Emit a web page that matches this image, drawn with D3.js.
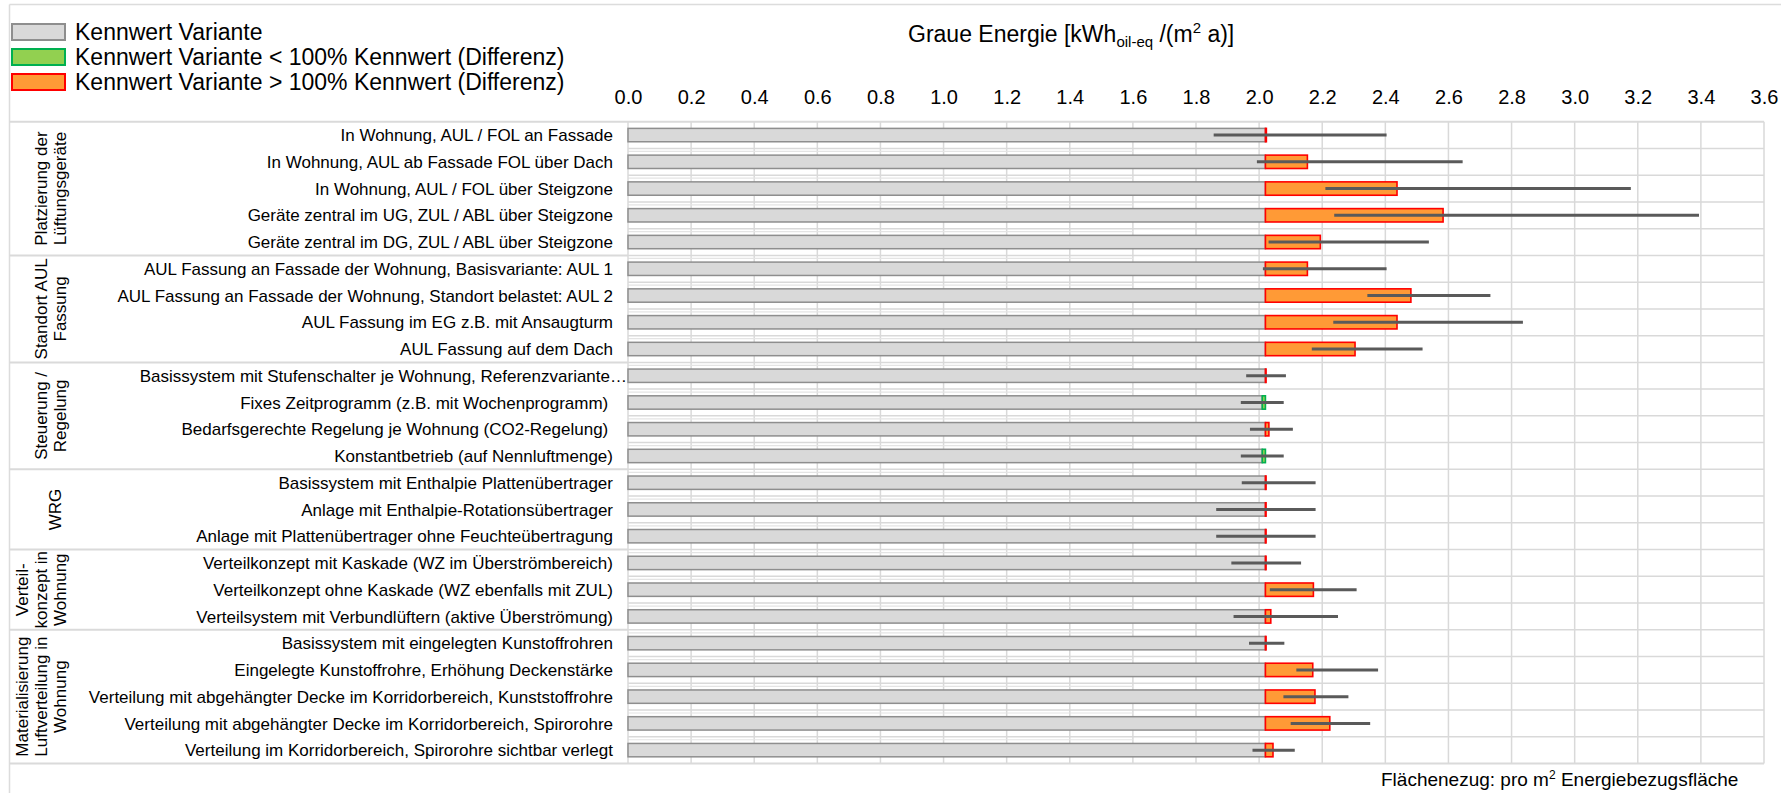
<!DOCTYPE html>
<html><head><meta charset="utf-8">
<script src="https://cdn.jsdelivr.net/npm/d3@7"></script>
<style>
body{margin:0;background:#fff;}
svg text{font-family:"Liberation Sans",Arial,sans-serif;fill:#000;white-space:pre;}
</style>
</head><body>
<svg id="c" width="1781" height="793"></svg>
<script>
// ---------------- data ----------------
const categories = [
  "In Wohnung, AUL / FOL an Fassade",
  "In Wohnung, AUL ab Fassade FOL über Dach",
  "In Wohnung, AUL / FOL über Steigzone",
  "Geräte zentral im UG, ZUL / ABL über Steigzone",
  "Geräte zentral im DG, ZUL / ABL über Steigzone",
  "AUL Fassung an Fassade der Wohnung, Basisvariante: AUL 1",
  "AUL Fassung an Fassade der Wohnung, Standort belastet: AUL 2",
  "AUL Fassung im EG z.B. mit Ansaugturm",
  "AUL Fassung auf dem Dach",
  "Basissystem mit Stufenschalter je Wohnung, Referenzvariante…",
  "Fixes Zeitprogramm (z.B. mit Wochenprogramm) ",
  "Bedarfsgerechte Regelung je Wohnung (CO2-Regelung) ",
  "Konstantbetrieb (auf Nennluftmenge)",
  "Basissystem mit Enthalpie Plattenübertrager",
  "Anlage mit Enthalpie-Rotationsübertrager",
  "Anlage mit Plattenübertrager ohne Feuchteübertragung",
  "Verteilkonzept mit Kaskade (WZ im Überströmbereich)",
  "Verteilkonzept ohne Kaskade (WZ ebenfalls mit ZUL)",
  "Verteilsystem mit Verbundlüftern (aktive Überströmung)",
  "Basissystem mit eingelegten Kunstoffrohren",
  "Eingelegte Kunstoffrohre, Erhöhung Deckenstärke",
  "Verteilung mit abgehängter Decke im Korridorbereich, Kunststoffrohre",
  "Verteilung mit abgehängter Decke im Korridorbereich, Spirorohre",
  "Verteilung im Korridorbereich, Spirorohre sichtbar verlegt"
];
const groupLabels = [
  ["Platzierung der","Lüftungsgeräte"],
  ["Standort AUL","Fassung"],
  ["Steuerung /","Regelung"],
  ["WRG"],
  ["Verteil-","konzept in","Wohnung"],
  ["Materialisierung","Luftverteilung in","Wohnung"]
];
const groupSizes = [5,4,4,3,3,5];
const referenceValue = 2.02;
const variantValues = [2.023,2.153,2.437,2.583,2.194,2.153,2.481,2.437,2.304,2.022,2.010,2.031,2.010,2.022,2.022,2.022,2.022,2.172,2.037,2.022,2.170,2.177,2.224,2.044];
const rangeLow  = [1.856,1.993,2.210,2.238,2.030,2.012,2.343,2.235,2.167,1.959,1.942,1.971,1.942,1.945,1.864,1.864,1.912,2.034,1.919,1.968,2.118,2.077,2.100,1.979];
const rangeHigh = [2.404,2.645,3.178,3.394,2.538,2.404,2.733,2.836,2.518,2.085,2.078,2.107,2.078,2.179,2.179,2.179,2.133,2.309,2.250,2.080,2.377,2.283,2.352,2.113];
const tickValues = [0,0.2,0.4,0.6,0.8,1.0,1.2,1.4,1.6,1.8,2.0,2.2,2.4,2.6,2.8,3.0,3.2,3.4,3.6];
const legendItems = [
  "Kennwert Variante",
  "Kennwert Variante < 100% Kennwert (Differenz)",
  "Kennwert Variante > 100% Kennwert (Differenz)"
];

// ---------------- layout ----------------
const svg = d3.select("#c");
const plotL = 628, plotR = 1764, plotT = 121.7, plotB = 763.5, tableL = 9.5;
const x = d3.scaleLinear().domain([0,3.6]).range([plotL, plotR]);
const y = d3.scaleBand().domain(categories).range([plotT, plotB]).paddingInner(0.5).paddingOuter(0.25);
const step = y.step();
const boundary = k => plotT + k*step;

const GRID = "#d9d9d9";

// frame
svg.append("line").attr("x1",tableL).attr("x2",1781).attr("y1",4.5).attr("y2",4.5).attr("stroke","#dcdcdc").attr("stroke-width",1.5);
svg.append("line").attr("x1",tableL).attr("x2",tableL).attr("y1",4.5).attr("y2",793).attr("stroke","#dcdcdc").attr("stroke-width",1.5);

// vertical gridlines
svg.append("g").selectAll("line").data(tickValues.slice(1)).join("line")
  .attr("x1",d=>x(d)).attr("x2",d=>x(d)).attr("y1",plotT).attr("y2",plotB)
  .attr("stroke",GRID).attr("stroke-width",1.5);

// horizontal row lines
const rowB = d3.range(1, categories.length);
svg.append("g").selectAll("line").data(rowB).join("line")
  .attr("x1",plotL).attr("x2",plotR).attr("y1",d=>boundary(d)).attr("y2",d=>boundary(d))
  .attr("stroke",GRID).attr("stroke-width",1.5);
svg.append("g").selectAll("line").data(rowB).join("line")
  .attr("x1",plotL).attr("x2",x(1.6)).attr("y1",d=>boundary(d)+3).attr("y2",d=>boundary(d)+3)
  .attr("stroke","#e4e4e4").attr("stroke-width",1.2);

// table lines
let acc = 0; const groupBounds = [];
groupSizes.forEach(s=>{ groupBounds.push([acc, acc+s]); acc += s; });
svg.append("g").selectAll("line").data(groupBounds.slice(0,-1)).join("line")
  .attr("x1",tableL).attr("x2",plotL).attr("y1",d=>boundary(d[1])).attr("y2",d=>boundary(d[1]))
  .attr("stroke","#dadada").attr("stroke-width",2);
[plotT, plotB].forEach(v=>{
  svg.append("line").attr("x1",tableL).attr("x2",plotR).attr("y1",v).attr("y2",v).attr("stroke","#dadada").attr("stroke-width",2);
});
svg.append("line").attr("x1",plotL).attr("x2",plotL).attr("y1",plotT).attr("y2",plotB).attr("stroke","#dadada").attr("stroke-width",1.5);

// data rows
const rows = categories.map((c,i)=>({c, v:variantValues[i], lo:rangeLow[i], hi:rangeHigh[i]}));
const bw = y.bandwidth();

// grey base bars
svg.append("g").selectAll("rect").data(rows).join("rect")
  .attr("x",x(0)).attr("y",d=>y(d.c))
  .attr("width",d=>x(Math.min(d.v,referenceValue))-x(0)).attr("height",bw)
  .attr("fill","#d9d9d9").attr("stroke","#8e8e8e").attr("stroke-width",1.5);

// difference bars
svg.append("g").selectAll("rect").data(rows).join("rect")
  .attr("x",d=>x(Math.min(d.v,referenceValue))).attr("y",d=>y(d.c))
  .attr("width",d=>Math.abs(x(d.v)-x(referenceValue))).attr("height",bw)
  .attr("fill",d=>d.v<referenceValue?"#92d050":"#ff9a36")
  .attr("stroke",d=>d.v<referenceValue?"#00b050":"#ff0000").attr("stroke-width",1.6);

// range lines
svg.append("g").selectAll("line").data(rows).join("line")
  .attr("x1",d=>x(d.lo)).attr("x2",d=>x(d.hi))
  .attr("y1",d=>y(d.c)+bw/2).attr("y2",d=>y(d.c)+bw/2)
  .attr("stroke","#5a5a5a").attr("stroke-width",3);

// category labels
svg.append("g").selectAll("text").data(rows).join("text")
  .attr("x",(d,i)=> i===9 ? 627 : 613)
  .attr("y",d=>y(d.c)+bw/2).attr("dy","0.36em")
  .attr("text-anchor","end").attr("font-size",17).text(d=>d.c);

// group labels (rotated)
groupLabels.forEach((lines,gi)=>{
  const [a,b] = groupBounds[gi];
  const cy = (boundary(a)+boundary(b))/2;
  const n = lines.length;
  lines.forEach((t,li)=>{
    const bx = n===1 ? 61 : 65.5 - (n-1-li)*19;
    svg.append("text").attr("transform",`translate(${bx},${cy}) rotate(-90)`)
      .attr("text-anchor","middle").attr("font-size",17).text(t);
  });
});

// top axis (tick labels)
const ax = svg.append("g").attr("transform","translate(0,104)")
  .call(d3.axisTop(x).tickValues(tickValues).tickFormat(d3.format(".1f")).tickSize(0).tickPadding(0));
ax.select(".domain").remove();
ax.selectAll("text").attr("font-size",20).attr("font-family","'Liberation Sans',Arial,sans-serif").attr("fill","#000").attr("dy","0");

// title
const title = svg.append("text").attr("x",908).attr("y",42).attr("font-size",23);
title.append("tspan").text("Graue Energie [kWh");
title.append("tspan").attr("font-size",15).attr("dy",5).text("oil-eq");
title.append("tspan").attr("dy",-5).text(" /(m");
title.append("tspan").attr("font-size",15).attr("dy",-9).text("2");
title.append("tspan").attr("dy",9).text(" a)]");

// legend
const legFill = ["#d9d9d9","#92d050","#ff9a36"], legStroke = ["#8e8e8e","#00b050","#ff0000"];
const lg = svg.append("g").selectAll("g").data(legendItems).join("g")
  .attr("transform",(d,i)=>`translate(0,${32 + i*25})`);
lg.append("rect").attr("x",12).attr("y",-8).attr("width",53).attr("height",16)
  .attr("fill",(d,i)=>legFill[i]).attr("stroke",(d,i)=>legStroke[i]).attr("stroke-width",2);
lg.append("text").attr("x",75).attr("y",0).attr("dy","0.36em").attr("font-size",23).text(d=>d);

// footnote
const fn = svg.append("text").attr("x",1381).attr("y",786).attr("font-size",19);
fn.append("tspan").text("Flächenezug: pro m");
fn.append("tspan").attr("font-size",12).attr("dy",-7).text("2");
fn.append("tspan").attr("dy",7).text(" Energiebezugsfläche");
</script>
</body></html>
